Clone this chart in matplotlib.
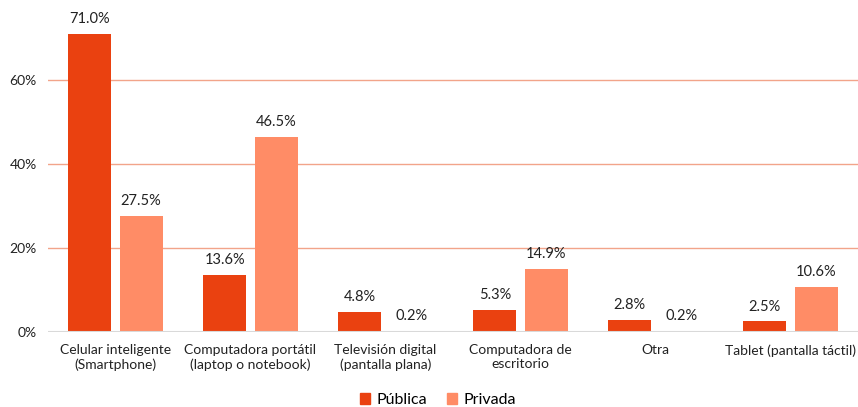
import numpy as np
import matplotlib
matplotlib.use('Agg')
import matplotlib.pyplot as plt
from matplotlib.patches import Patch

plt.rcParams['font.family'] = ['Lato', 'DejaVu Sans']

# ── Datos ─────────────────────────────────────────────────────────────────────
categorias = ["Celular inteligente\n(Smartphone)",
              "Computadora portátil\n(laptop o notebook)",
              "Televisión digital\n(pantalla plana)",
              "Computadora de\nescritorio",
              "Otra",
              "Tablet (pantalla táctil)"]
publica = [71.0, 13.6, 4.8, 5.3, 2.8, 2.5]
privada = [27.5, 46.5, 0.2, 14.9, 0.2, 10.6]
series_names = ["Pública", "Privada"]

C_PUB = '#EA4110'
C_PRI = '#FF8C66'
C_GRID = '#F2A48A'
C_AXIS = '#D9D9D9'

fig = plt.figure(figsize=(8.58, 4.07), dpi=100)
ax = fig.add_axes([48/858, 75/407, 810/858, 332/407])

x = np.arange(len(categorias))
w = 0.318
off = 0.19
b1 = ax.bar(x - off, publica, w, color=C_PUB, zorder=3)
b2 = ax.bar(x + off, privada, w, color=C_PRI, zorder=3)

for bars, vals in ((b1, publica), (b2, privada)):
    for b, v in zip(bars, vals):
        ax.text(b.get_x() + b.get_width() / 2, v + 1.9, f"{v:.1f}%",
                ha='center', va='bottom', fontsize=10.5, color='#222222')

ax.set_xlim(-0.5, len(categorias) - 0.5)
ax.set_ylim(0, 79)
ax.set_yticks([0, 20, 40, 60])
ax.set_yticklabels(["0%", "20%", "40%", "60%"], fontsize=10, color='#222222')
ax.set_xticks(x)
ax.set_xticklabels(categorias, fontsize=10, color='#222222', linespacing=1.2)
ax.tick_params(axis='both', length=0)
ax.tick_params(axis='x', pad=9)
ax.tick_params(axis='y', pad=8)

for yv in (20, 40, 60):
    ax.axhline(yv, color=C_GRID, lw=1.0, zorder=1)
ax.axhline(0, color=C_AXIS, lw=1.5, zorder=4)
for s in ax.spines.values():
    s.set_visible(False)

handles = [Patch(color=C_PUB), Patch(color=C_PRI)]
fig.legend(handles, series_names, loc='center', bbox_to_anchor=(438/858, 1 - 400/407),
           ncol=2, frameon=False, fontsize=11.5, handlelength=0.65, handleheight=0.65,
           handletextpad=0.4, columnspacing=1.2)

fig.savefig('out.png', dpi=100)
